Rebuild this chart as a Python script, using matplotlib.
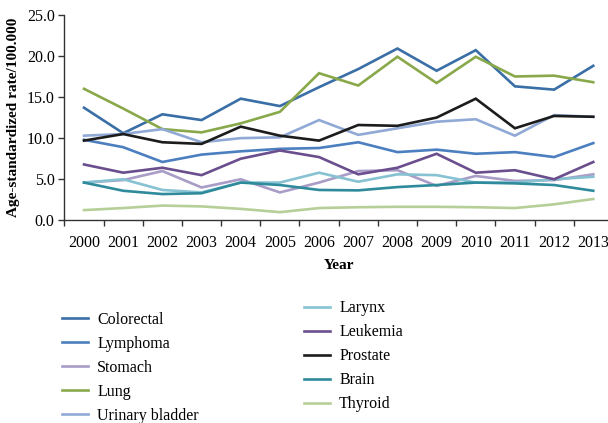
import numpy as np
import matplotlib
matplotlib.use("Agg")
import matplotlib.pyplot as plt
from matplotlib.ticker import FixedLocator

plt.rcParams['font.family'] = ['Liberation Serif', 'DejaVu Serif']

years = list(range(2000, 2014))

# age-standardized rates per 100.000 by cancer site
colorectal = [13.7, 10.6, 12.9, 12.2, 14.8, 13.9, 16.2, 18.4, 20.9, 18.2, 20.7, 16.3, 15.9, 18.8]
lymphoma = [9.8, 8.9, 7.1, 8.0, 8.4, 8.7, 8.8, 9.5, 8.3, 8.6, 8.1, 8.3, 7.7, 9.4]
stomach = [4.6, 4.9, 6.0, 4.0, 5.0, 3.4, 4.6, 6.0, 6.1, 4.2, 5.4, 4.8, 4.9, 5.6]
lung = [16.0, 13.6, 11.1, 10.7, 11.8, 13.2, 17.9, 16.4, 19.9, 16.7, 19.9, 17.5, 17.6, 16.8]
bladder = [10.3, 10.5, 11.1, 9.5, 10.0, 10.1, 12.2, 10.4, 11.2, 12.0, 12.3, 10.3, 12.8, 12.6]
larynx = [4.6, 5.0, 3.7, 3.4, 4.6, 4.6, 5.8, 4.7, 5.6, 5.5, 4.6, 4.6, 5.0, 5.3]
leukemia = [6.8, 5.8, 6.4, 5.5, 7.5, 8.5, 7.7, 5.6, 6.4, 8.1, 5.8, 6.1, 5.0, 7.1]
prostate = [9.7, 10.5, 9.5, 9.3, 11.4, 10.3, 9.7, 11.6, 11.5, 12.5, 14.8, 11.2, 12.7, 12.6]
brain = [4.6, 3.6, 3.2, 3.3, 4.6, 4.3, 3.7, 3.65, 4.05, 4.3, 4.6, 4.5, 4.3, 3.6]
thyroid = [1.25, 1.5, 1.8, 1.7, 1.4, 1.0, 1.5, 1.6, 1.65, 1.65, 1.6, 1.5, 1.95, 2.6]

left_names = ['Colorectal', 'Lymphoma', 'Stomach', 'Lung', 'Urinary bladder']
left_data = [colorectal, lymphoma, stomach, lung, bladder]
left_colors = ['#3a6ea6', '#4c7fbf', '#a99cc7', '#89a84a', '#90a9d5']

right_names = ['Larynx', 'Leukemia', 'Prostate', 'Brain', 'Thyroid']
right_data = [larynx, leukemia, prostate, brain, thyroid]
right_colors = ['#86c2d2', '#6a4e8d', '#1c1c1c', '#2f8b9c', '#b6cf98']

fig = plt.figure(figsize=(6.08, 4.23), dpi=100)
ax = fig.add_axes([0.106, 0.479, 0.902, 0.486])

x = np.arange(len(years))
left_handles = []
for name, vals, c in zip(left_names, left_data, left_colors):
    h, = ax.plot(x, vals, color=c, lw=1.9, label=name, solid_joinstyle='miter')
    left_handles.append(h)
right_handles = []
for name, vals, c in zip(right_names, right_data, right_colors):
    h, = ax.plot(x, vals, color=c, lw=1.9, label=name, solid_joinstyle='miter')
    right_handles.append(h)

ax.set_xlim(-0.5, len(years) - 0.5)
ax.set_ylim(0, 25)
ax.set_yticks(np.arange(0, 26, 5))
ax.set_yticklabels(['%.1f' % v for v in np.arange(0, 26, 5)], fontsize=11.5)
ax.set_xticks(x)
ax.set_xticklabels([str(y) for y in years], fontsize=11.5)
ax.xaxis.set_minor_locator(FixedLocator(np.arange(-0.5, len(years), 1.0)))
ax.tick_params(axis='x', which='major', length=0, pad=10.5)
ax.tick_params(axis='x', which='minor', length=4, width=1, color='#333333', direction='out')
ax.tick_params(axis='y', length=4, width=1, color='#333333', pad=3)

for s in ['top', 'right']:
    ax.spines[s].set_visible(False)
for s in ['left', 'bottom']:
    ax.spines[s].set_color('#333333')
    ax.spines[s].set_linewidth(1.0)

ax.set_xlabel('Year', fontsize=11, fontweight='bold', labelpad=6)
ax.set_ylabel('Age-standardized rate/100.000', fontsize=11, fontweight='bold', labelpad=5)

leg_kw = dict(frameon=False, fontsize=11.5, handlelength=1.6, handletextpad=0.6,
              labelspacing=0.5, borderaxespad=0, borderpad=0)
leg1 = fig.legend(handles=left_handles, loc='upper left',
                  bbox_to_anchor=(0.102, 0.263), **leg_kw)
leg2 = fig.legend(handles=right_handles, loc='upper left',
                  bbox_to_anchor=(0.500, 0.290), **leg_kw)

fig.savefig('out.png', dpi=100)
